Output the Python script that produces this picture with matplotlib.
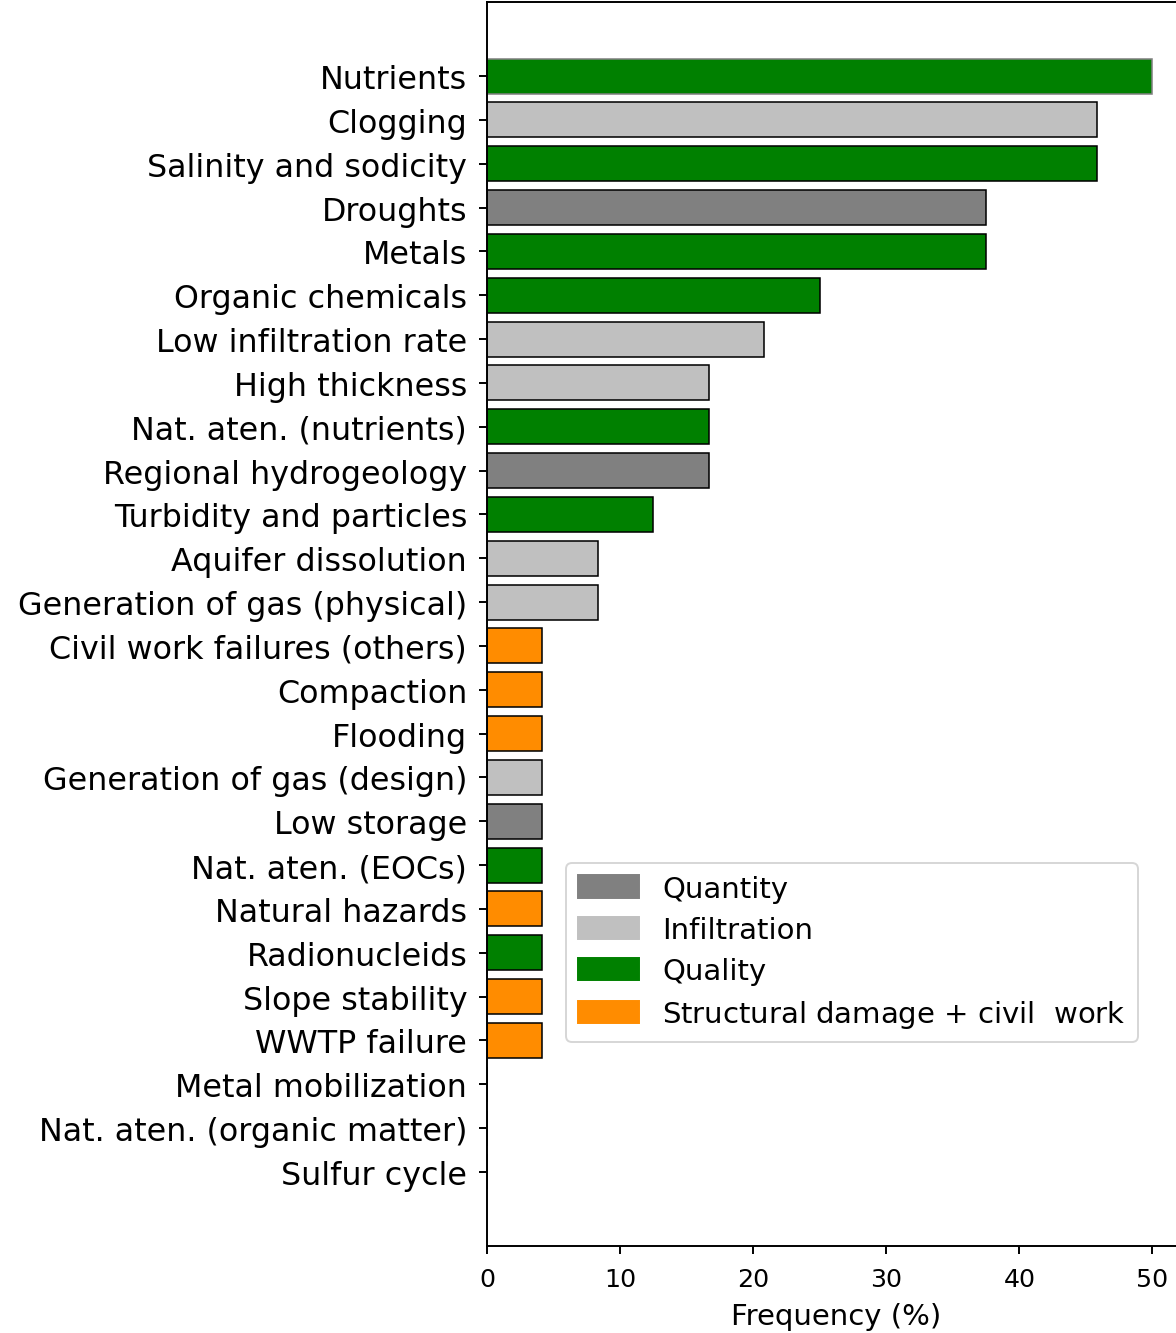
'''horizontal bar chart of problem frequency by category
'''
import matplotlib
matplotlib.use('Agg')
import matplotlib.pyplot as plt
from matplotlib.patches import Patch

problems = ['Nutrients', 'Clogging', 'Salinity and sodicity', 'Droughts', 'Metals',
            'Organic chemicals', 'Low infiltration rate', 'High thickness',
            'Nat. aten. (nutrients)', 'Regional hydrogeology', 'Turbidity and particles',
            'Aquifer dissolution', 'Generation of gas (physical)',
            'Civil work failures (others)', 'Compaction', 'Flooding',
            'Generation of gas (design)', 'Low storage', 'Nat. aten. (EOCs)',
            'Natural hazards', 'Radionucleids', 'Slope stability', 'WWTP failure',
            'Metal mobilization', 'Nat. aten. (organic matter)', 'Sulfur cycle']
frequency = [50.0, 45.83, 45.83, 37.5, 37.5, 25.0, 20.83, 16.67, 16.67, 16.67, 12.5,
             8.33, 8.33, 4.17, 4.17, 4.17, 4.17, 4.17, 4.17, 4.17, 4.17, 4.17, 4.17,
             0, 0, 0]
group = ['Quality', 'Infiltration', 'Quality', 'Quantity', 'Quality', 'Quality',
         'Infiltration', 'Infiltration', 'Quality', 'Quantity', 'Quality',
         'Infiltration', 'Infiltration', 'Structural', 'Structural', 'Structural',
         'Infiltration', 'Quantity', 'Quality', 'Structural', 'Quality', 'Structural',
         'Structural', 'Quality', 'Quality', 'Quality']
legend_labels = ['Quantity', 'Infiltration', 'Quality', 'Structural damage $+$ civil  work']

colors = {'Quantity': 'gray', 'Infiltration': 'silver', 'Quality': 'green',
          'Structural': 'darkorange'}

fig = plt.figure(figsize=(8.4, 9.528), dpi=140)
ax = fig.add_axes([0.4141, 0.0652, 0.5942, 0.9326])

ypos = list(range(len(problems)))
bar_colors = [colors[g] for g in group]
edges = ['gray'] + ['black'] * (len(problems) - 1)
ax.barh(ypos, frequency, color=bar_colors, edgecolor=edges, linewidth=0.8)
ax.set_yticks(ypos)
ax.set_yticklabels(problems, fontsize=16.3)
ax.invert_yaxis()
ax.tick_params(axis='y', length=4.2, width=1.0, pad=6)
ax.tick_params(axis='x', labelsize=13, length=4.2, width=1.0, pad=6.5)
for s in ax.spines.values():
    s.set_linewidth(1.0)
ax.set_xlabel('Frequency (%)', fontsize=15, labelpad=6)

handles = [Patch(color=colors[k]) for k in ['Quantity', 'Infiltration', 'Quality', 'Structural']]
fig.legend(handles, legend_labels, loc='upper left', bbox_to_anchor=(566/1176, 1 - 864/1334),
           borderaxespad=0, fontsize=15, handlelength=2.1, handleheight=0.8,
           labelspacing=0.45, handletextpad=0.8)

plt.savefig('out.png', dpi=140)
